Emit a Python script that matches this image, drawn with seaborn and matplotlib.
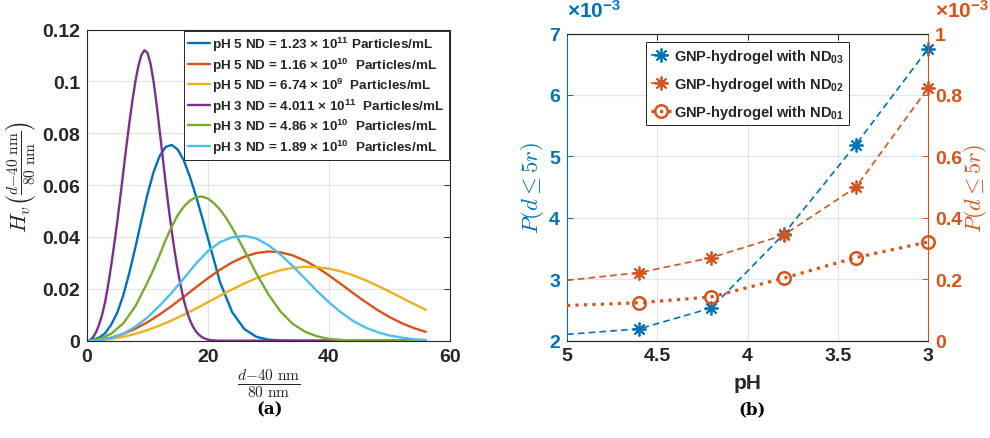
import numpy as np
import pandas as pd
import matplotlib
matplotlib.use("Agg")
import matplotlib.pyplot as plt
import seaborn as sns
from matplotlib.ticker import FuncFormatter, FixedLocator

sns.set_style("white")
plt.rcParams['font.family'] = ['Liberation Sans', 'DejaVu Sans']
plt.rcParams['font.weight'] = 'bold'
plt.rcParams['mathtext.fontset'] = 'cm'
# fonts for the "custom" math family (legend super/subscripts, x10^-3)
for k in ['rm', 'it', 'bf', 'sf']:
    plt.rcParams['mathtext.' + k] = 'Liberation Sans:bold'

# ---------------- data (a) ----------------
x_even = [0, 2, 4, 6, 8, 10, 12, 14, 16, 18, 20, 22, 24, 26, 28, 30, 32, 34, 36, 38,
          40, 42, 44, 46, 48, 50, 52, 54, 56]
x_blue = [0, 1, 2, 3, 4, 5, 6, 7, 8, 9, 10, 11, 12, 13, 14, 15, 16, 17, 18, 19, 20,
          22, 24, 26, 28, 30, 32, 34, 36, 38, 40, 42, 44, 46, 48, 50, 52, 54, 56]
x_green = [0, 2, 4, 6, 8, 10, 11, 12, 13, 14, 15, 16, 17, 18, 19, 20, 21, 22, 23, 24,
           26, 28, 30, 32, 34, 36, 38, 40, 42, 44, 46, 48, 50, 52, 54, 56]
x_purple = [0, 0.5, 1, 1.5, 2, 2.5, 3, 3.5, 4, 4.5, 5, 5.5, 6, 6.5, 7, 7.5, 8, 8.5, 9, 9.5,
            10, 10.5, 11, 11.5, 12, 12.5, 13, 13.5, 14, 14.5, 15, 15.5, 16, 16.5, 17, 17.5,
            18, 18.5, 19, 19.5, 20, 20.5, 21, 21.5, 22, 24, 26, 28, 30, 32, 34, 36, 38, 40,
            42, 44, 46, 48, 50, 52, 54, 56]

hv_ph5_nd1 = [0, 0.0003, 0.0012, 0.0029, 0.0062, 0.0108, 0.0175, 0.0262, 0.0360, 0.0465,
              0.0565, 0.0650, 0.0712, 0.0747, 0.0755, 0.0737, 0.0695, 0.0633, 0.0559,
              0.0478, 0.0394, 0.0225, 0.0110, 0.0045, 0.0015, 0.0004, 0.0001,
              0, 0, 0, 0, 0, 0, 0, 0, 0, 0, 0, 0]
hv_ph5_nd2 = [0, 0.00029, 0.00117, 0.00261, 0.00462, 0.00713, 0.01009, 0.01340, 0.01694,
              0.02057, 0.02410, 0.02737, 0.03019, 0.03238, 0.03381, 0.03439, 0.03408,
              0.03289, 0.03091, 0.02829, 0.02518, 0.02180, 0.01833, 0.01498, 0.01186,
              0.00912, 0.00678, 0.00488, 0.00340]
hv_ph5_nd3 = [0, 0.00017, 0.00066, 0.00149, 0.00263, 0.00409, 0.00583, 0.00782, 0.01003,
              0.01240, 0.01487, 0.01735, 0.01978, 0.02206, 0.02410, 0.02583, 0.02718,
              0.02807, 0.02848, 0.02838, 0.02777, 0.02670, 0.02520, 0.02335, 0.02123,
              0.01894, 0.01657, 0.01420, 0.01194]
hv_ph3_nd1 = [0, 0.0003, 0.0013, 0.0033, 0.0062, 0.0100, 0.0150, 0.0215, 0.0290, 0.0372,
              0.0458, 0.0553, 0.0650, 0.0748, 0.0840, 0.0925, 0.1000, 0.1060, 0.1102,
              0.1120, 0.1110, 0.1068, 0.1000, 0.0912, 0.0812, 0.0710, 0.0608, 0.0512,
              0.0423, 0.0343, 0.0272, 0.0210, 0.0157, 0.0114, 0.0080, 0.0055, 0.0036,
              0.0023, 0.0014, 0.0008, 0.0004, 0.0002, 0.0001, 0, 0,
              0, 0, 0, 0, 0, 0, 0, 0, 0, 0, 0, 0, 0, 0, 0, 0, 0]
hv_ph3_nd2 = [0, 0.0006, 0.0027, 0.0067, 0.0133, 0.0225, 0.0275, 0.0330, 0.0388, 0.0440,
              0.0484, 0.0517, 0.0540, 0.0553, 0.0556, 0.0548, 0.0530, 0.0505, 0.0473,
              0.0435, 0.0349, 0.0259, 0.0178, 0.0112, 0.0065, 0.0035, 0.0017, 0.0007,
              0.0003, 0.0001, 0, 0, 0, 0, 0, 0]
hv_ph3_nd3 = [0, 0.0002, 0.0010, 0.0027, 0.0054, 0.0090, 0.0135, 0.0185, 0.0240, 0.0297,
              0.0346, 0.0380, 0.0399, 0.0404, 0.0394, 0.0368, 0.0332, 0.0288, 0.0240,
              0.0192, 0.0148, 0.0109, 0.0076, 0.0051, 0.0033, 0.0020, 0.0012, 0.0006,
              0.0003]

labels_a = [
    r'pH 5 ND = 1.23 $\times$ 10$^{11}$ Particles/mL',
    r'pH 5 ND = 1.16 $\times$ 10$^{10}$  Particles/mL',
    r'pH 5 ND = 6.74 $\times$ 10$^{9}$  Particles/mL',
    r'pH 3 ND = 4.011 $\times$ 10$^{11}$  Particles/mL',
    r'pH 3 ND = 4.86 $\times$ 10$^{10}$  Particles/mL',
    r'pH 3 ND = 1.89 $\times$ 10$^{10}$  Particles/mL',
]
colors_a = ['#0072BD', '#D95319', '#EDB120', '#7E2F8E', '#77AC30', '#4DBEEE']

# ---------------- data (b) ----------------
ph = [5.0, 4.6, 4.2, 3.8, 3.4, 3.0]
p_nd03 = [2.10e-3, 2.19e-3, 2.53e-3, 3.73e-3, 5.19e-3, 6.75e-3]
p_nd02 = [0.196e-3, 0.221e-3, 0.270e-3, 0.343e-3, 0.499e-3, 0.822e-3]
p_nd01 = [0.114e-3, 0.123e-3, 0.142e-3, 0.203e-3, 0.270e-3, 0.321e-3]
labels_b = [r'GNP-hydrogel with ND$_{03}$', r'GNP-hydrogel with ND$_{02}$',
            r'GNP-hydrogel with ND$_{01}$']

dark = '#262626'
blue = '#0072BD'
orange = '#D95319'
tick_fs = 14

fig = plt.figure(figsize=(9.9, 4.39), dpi=100)
axa = fig.add_axes([87 / 990, 1 - 341.7 / 439, 363 / 990, 311.2 / 439])
axb = fig.add_axes([567 / 990, 1 - 341.5 / 439, 361 / 990, 307 / 439])

# ---------------- panel (a) ----------------
series_a = [(x_blue, hv_ph5_nd1), (x_even, hv_ph5_nd2), (x_even, hv_ph5_nd3),
            (x_purple, hv_ph3_nd1), (x_green, hv_ph3_nd2), (x_even, hv_ph3_nd3)]
for (xs, ys), c, lab in zip(series_a, colors_a, labels_a):
    sns.lineplot(x=xs, y=ys, ax=axa, color=c, lw=1.7, label=lab)

axa.set_xlim(0, 60)
axa.set_ylim(0, 0.12)
axa.xaxis.set_major_locator(FixedLocator([0, 20, 40, 60]))
axa.yaxis.set_major_locator(FixedLocator([0, 0.02, 0.04, 0.06, 0.08, 0.1, 0.12]))
axa.yaxis.set_major_formatter(FuncFormatter(lambda v, p: f'{v:g}'))
axa.grid(True, color='#e3e3e3', lw=0.8)
axa.tick_params(direction='in', length=4, width=0.7, colors=dark, labelsize=tick_fs,
                top=True, right=True, pad=5)
for s in axa.spines.values():
    s.set_color(dark)
    s.set_linewidth(0.8)
axa.set_xlabel(r'$\frac{d{-}40\ \mathrm{nm}}{80\ \mathrm{nm}}$', fontsize=16, color=dark,
               labelpad=1)
axa.set_ylabel(r'$H_v\left(\frac{d{-}40\ \mathrm{nm}}{80\ \mathrm{nm}}\right)$', fontsize=16,
               color=dark)
axa.yaxis.set_label_coords(-0.135, 0.53)
leg = axa.legend(loc='upper right', fontsize=9.7, frameon=True, fancybox=False,
                 edgecolor=dark, framealpha=1, borderaxespad=0.1, handlelength=1.6,
                 handletextpad=0.2, labelspacing=0.17, borderpad=0.3)
leg.get_frame().set_linewidth(0.7)
for t in leg.get_texts():
    t.set_math_fontfamily('custom')
    t.set_fontweight('bold')

# ---------------- panel (b) ----------------
ax2 = axb.twinx()
star = (8, 2, 0)
dash = (0, (4, 2.5))
marks = [1, 2, 3, 4, 5]
sns.lineplot(x=ph, y=p_nd03, ax=axb, sort=False, color=blue, lw=1.2, linestyle=dash,
             marker=star, markersize=10, markeredgewidth=1.3, markeredgecolor=blue,
             markevery=marks, clip_on=False, label=labels_b[0])
sns.lineplot(x=ph, y=p_nd02, ax=ax2, sort=False, color=orange, lw=1.2, linestyle=dash,
             marker=star, markersize=10, markeredgewidth=1.3, markeredgecolor=orange,
             markevery=marks, clip_on=False, label=labels_b[1])
sns.lineplot(x=ph, y=p_nd01, ax=ax2, sort=False, color=orange, lw=2.3, linestyle=':',
             marker='o', markersize=9, markerfacecolor='none', markeredgecolor=orange,
             markeredgewidth=1.8, markevery=marks, clip_on=False, label=labels_b[2])

axb.set_xlim(5, 3)
axb.set_ylim(2e-3, 7e-3)
ax2.set_ylim(0, 1e-3)
axb.xaxis.set_major_locator(FixedLocator([5, 4.5, 4, 3.5, 3]))
axb.xaxis.set_major_formatter(FuncFormatter(lambda v, p: f'{v:g}'))
axb.yaxis.set_major_locator(FixedLocator([2e-3, 3e-3, 4e-3, 5e-3, 6e-3, 7e-3]))
axb.yaxis.set_major_formatter(FuncFormatter(lambda v, p: f'{v * 1e3:g}'))
ax2.yaxis.set_major_locator(FixedLocator([0, 0.2e-3, 0.4e-3, 0.6e-3, 0.8e-3, 1e-3]))
ax2.yaxis.set_major_formatter(FuncFormatter(lambda v, p: f'{v * 1e3:g}'))

axb.grid(True, axis='x', color='#e3e3e3', lw=0.8)
axb.grid(True, axis='y', color='#d6e9f6', lw=0.8)
axb.tick_params(axis='x', direction='in', length=4, width=0.7, colors=dark,
                labelsize=tick_fs, top=True, pad=5)
axb.tick_params(axis='y', direction='in', length=4, width=0.7, colors=blue,
                labelsize=tick_fs, pad=5)
ax2.tick_params(axis='y', direction='in', length=4, width=0.7, colors=orange,
                labelsize=tick_fs, pad=5)
for ax in (axb, ax2):
    for s in ax.spines.values():
        s.set_color(dark)
        s.set_linewidth(0.8)
axb.spines['left'].set_color(blue)
ax2.spines['left'].set_visible(False)
ax2.spines['right'].set_color(orange)
axb.spines['right'].set_visible(False)

axb.set_xlabel('pH', fontsize=15, fontweight='bold', color=dark, labelpad=6)
axb.set_ylabel(r'$P(d \leq 5r)$', fontsize=16.5, color=blue, labelpad=2)
ax2.set_ylabel(r'$P(d \leq 5r)$', fontsize=16, color=orange, labelpad=0)

t1 = axb.text(0.0, 1.04, r'$\times$10$^{-3}$', transform=axb.transAxes, ha='left',
              va='bottom', fontsize=15, color=blue, fontweight='bold')
t2 = ax2.text(1.02, 1.04, r'$\times$10$^{-3}$', transform=ax2.transAxes, ha='left',
              va='bottom', fontsize=15, color=orange, fontweight='bold')
for t in (t1, t2):
    t.set_math_fontfamily('custom')

h1, l1 = axb.get_legend_handles_labels()
h2, l2 = ax2.get_legend_handles_labels()
if axb.get_legend() is not None:
    axb.get_legend().remove()
legb = ax2.legend(h1 + h2, l1 + l2, loc='upper center', fontsize=10.5, frameon=True,
                  fancybox=False, edgecolor=dark, framealpha=1, borderaxespad=0.6,
                  handlelength=1.4, handletextpad=0.2, labelspacing=0.7, borderpad=0.3)
legb.get_frame().set_linewidth(0.7)
for t in legb.get_texts():
    t.set_math_fontfamily('custom')
    t.set_fontweight('bold')

fig.text(270 / 990, 1 - 410 / 439, '(a)', ha='center', va='center', fontsize=12,
         fontweight='bold', family='DejaVu Serif', color='black')
fig.text(752 / 990, 1 - 410 / 439, '(b)', ha='center', va='center', fontsize=12,
         fontweight='bold', family='DejaVu Serif', color='black')

fig.savefig('out.png', dpi=100)
